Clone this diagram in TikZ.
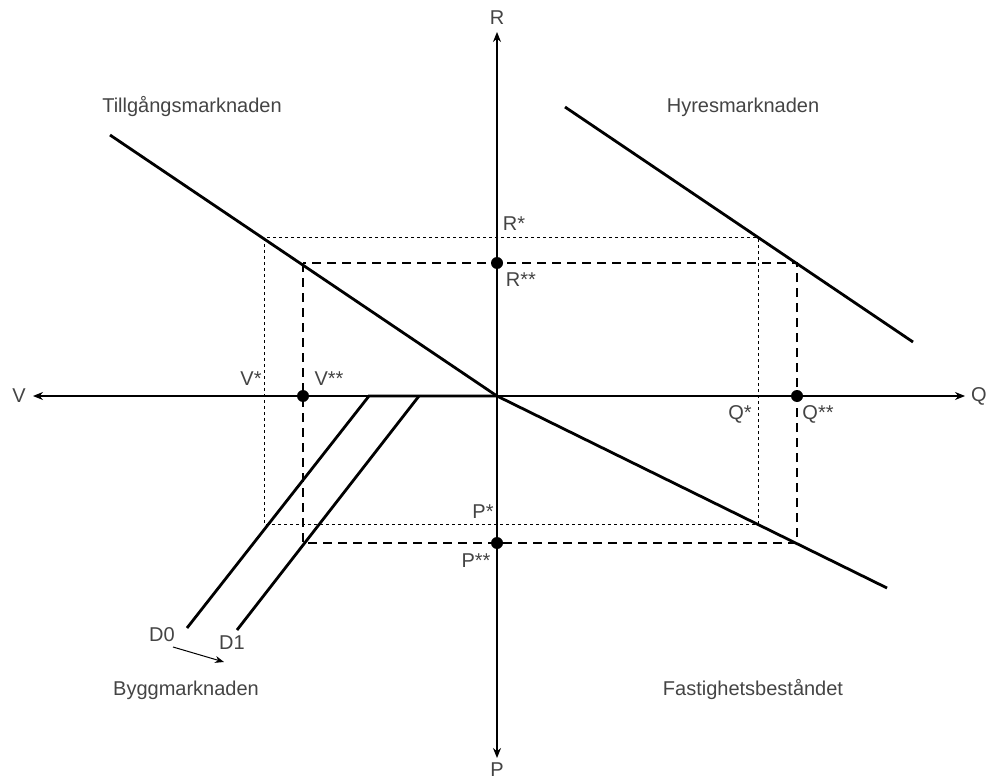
\documentclass[tikz,border=0pt]{standalone}
\usepackage{fontspec}
\setmainfont{Liberation Sans}
\usetikzlibrary{arrows.meta,positioning,calc}
\definecolor{ptext}{HTML}{444444}
\tikzset{
  % axes and the small shift arrow
  axis/.style   = {{Stealth[length=10pt,width=8pt]}-{Stealth[length=10pt,width=8pt]}, line width=1.2pt},
  shiftarr/.style = {-{Stealth[length=9pt,width=7pt]}, line width=1pt},
  curve/.style  = {line width=2.8pt},
  guide/.style  = {dash pattern=on 3pt off 3pt, line width=1pt},
  moved/.style  = {dash pattern=on 9pt off 6pt, line width=2.6pt},
  lbl/.style    = {font=\fontsize{20}{24}\selectfont, text=ptext, inner sep=0pt},
  dot/.style    = {circle, fill=black, inner sep=0pt, minimum size=12pt},
}
\begin{document}
\begin{tikzpicture}[x=1pt,y=-1pt]
\useasboundingbox (0,0) rectangle (989,781);
% axes
\coordinate (O) at (497,396);
\coordinate (Rtip) at (497,32);
\coordinate (Ptip) at (497,758);
\coordinate (Vtip) at (33,396);
\coordinate (Qtip) at (965,396);
\node[lbl] (R) at (497,18)  {R};
\node[lbl] (P) at (497,770) {P};
\node[lbl] (V) at (19,396)  {V};
\node[lbl] (Q) at (979,396) {Q};
% equilibrium guides
\coordinate (Rs)  at (497,238);
\coordinate (Rss) at (497,263);
\coordinate (Ps)  at (497,524);
\coordinate (Pss) at (497,543);
\coordinate (Vs)  at (264,396);
\coordinate (Vss) at (303,396);
\coordinate (Qs)  at (758,396);
\coordinate (Qss) at (797,396);
\draw[guide] (Vs |- Rs) rectangle (Qs |- Ps);
\draw[moved] (Vss |- Rss) rectangle (Qss |- Pss);
\draw[axis] (Ptip) -- (Rtip);
\draw[axis] (Vtip) -- (Qtip);
% market curves
\coordinate (T1) at (110,135);
\coordinate (T2) at (887,588);
\coordinate (H1) at (565,107);
\coordinate (H2) at (913,342);
\coordinate (C0) at (369,396);
\coordinate (C1) at (419,396);
\coordinate (D0end) at (187,628);
\coordinate (D1end) at (237,630);
\draw[curve] (T1) -- (O) -- (T2);
\draw[curve] (H1) -- (H2);
\draw[curve] (D0end) -- (C0) -- (O);
\draw[curve] (C1) -- (D1end);
% points
\node[dot] (nR) at (Rss) {};
\node[dot] (nP) at (Pss) {};
\node[dot] (nV) at (Vss) {};
\node[dot] (nQ) at (Qss) {};
\node[lbl] (lRs)  at (514,224) {R*};
\node[lbl] (lRss) at (521,280) {R**};
\node[lbl] (lPs)  at (483,512) {P*};
\node[lbl] (lPss) at (476,561) {P**};
\node[lbl] (lVs)  at (251,379) {V*};
\node[lbl] (lVss) at (329,379) {V**};
\node[lbl] (lQs)  at (740,414) {Q*};
\node[lbl] (lQss) at (818,414) {Q**};
% shift of construction curve
\node[lbl] (D0) at (162,635) {D0};
\node[lbl] (D1) at (232,643) {D1};
\coordinate (sA) at (173,647);
\coordinate (sB) at (224,662);
\draw[shiftarr] (sA) -- (sB);
% quadrant titles
\node[lbl] (tT) at (192,107) {Tillgångsmarknaden};
\node[lbl] (tH) at (743,107) {Hyresmarknaden};
\node[lbl] (tB) at (186,690) {Byggmarknaden};
\node[lbl] (tF) at (753,690) {Fastighetsbeståndet};
\end{tikzpicture}
\end{document}
